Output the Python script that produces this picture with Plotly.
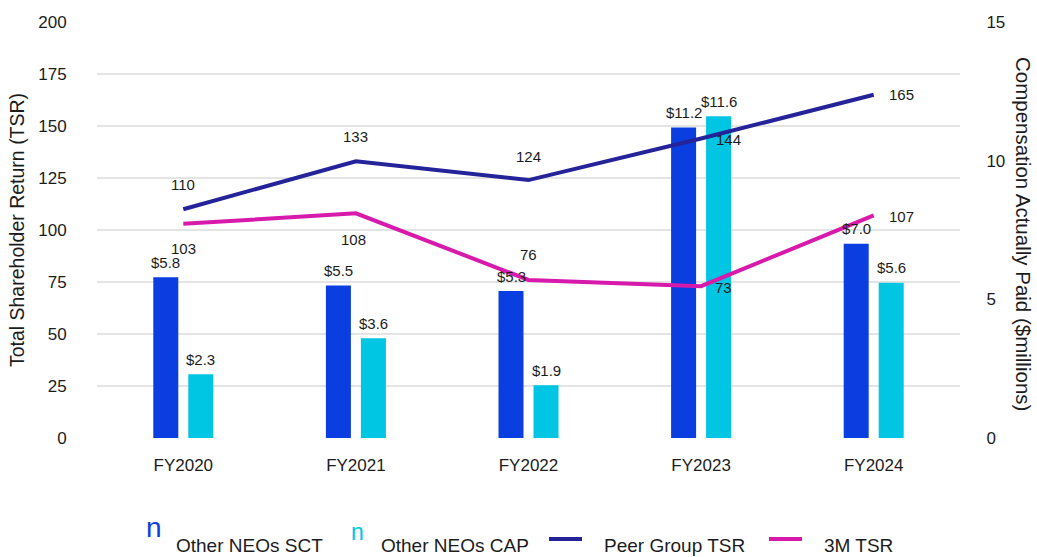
import plotly.graph_objects as go

# Fiscal years and values
years = ["FY2020", "FY2021", "FY2022", "FY2023", "FY2024"]
neo_sct = [5.8, 5.5, 5.3, 11.2, 7.0]      # $ millions
neo_cap = [2.3, 3.6, 1.9, 11.6, 5.6]      # $ millions
peer_tsr = [110, 133, 124, 144, 165]
mmm_tsr = [103, 108, 76, 73, 107]

tsr_ticks = [0, 25, 50, 75, 100, 125, 150, 175, 200]
comp_ticks = [0, 5, 10, 15]

C_SCT = "#0A3EE0"
C_CAP = "#00C5E3"
C_PEER = "#25239A"
C_MMM = "#D71AAC"
TXT = "#1c1c1c"
FONT = "Liberation Sans, Arial, sans-serif"

W, H = 1037, 557
ML, MR, MT, MB = 97, 77, 22, 119
plot_w = W - ML - MR
plot_h = H - MT - MB
cat_px = plot_w / len(years)

bar_w = 25 / cat_px

fig = go.Figure()

# Compensation bars on the right-hand axis
fig.add_trace(go.Bar(x=years, y=neo_sct, yaxis="y", marker_color=C_SCT,
                     width=bar_w, offset=-30 / cat_px, name="Other NEOs SCT",
                     marker_line_width=0))
fig.add_trace(go.Bar(x=years, y=neo_cap, yaxis="y", marker_color=C_CAP,
                     width=bar_w, offset=5 / cat_px, name="Other NEOs CAP",
                     marker_line_width=0))

# TSR lines on the left-hand axis (drawn above the bars)
fig.add_trace(go.Scatter(x=years, y=peer_tsr, yaxis="y2", mode="lines",
                         line=dict(color=C_PEER, width=4), name="Peer Group TSR"))
fig.add_trace(go.Scatter(x=years, y=mmm_tsr, yaxis="y2", mode="lines",
                         line=dict(color=C_MMM, width=4), name="3M TSR"))

annotations = []
lab_font = dict(family=FONT, size=15, color=TXT)

# Bar value labels
for yr, v in zip(years, neo_sct):
    annotations.append(dict(x=yr, y=v, xref="x", yref="y", text=f"${v:.1f}",
                            showarrow=False, xshift=-17.5, yshift=15, font=lab_font))
for yr, v in zip(years, neo_cap):
    annotations.append(dict(x=yr, y=v, xref="x", yref="y", text=f"${v:.1f}",
                            showarrow=False, xshift=17.5, yshift=15, font=lab_font))

# Line value labels
peer_shift = [(0, 25), (0, 25), (0, 24), (27, -1), (28, 0)]
mmm_shift = [(0, -25), (-2, -26), (0, 25), (22, -1), (28, -1)]
for yr, v, (dx, dy) in zip(years, peer_tsr, peer_shift):
    annotations.append(dict(x=yr, y=v, xref="x", yref="y2", text=str(v),
                            showarrow=False, xshift=dx, yshift=dy, font=lab_font))
for yr, v, (dx, dy) in zip(years, mmm_tsr, mmm_shift):
    annotations.append(dict(x=yr, y=v, xref="x", yref="y2", text=str(v),
                            showarrow=False, xshift=dx, yshift=dy, font=lab_font))


def px(xp):
    return (xp - ML) / plot_w


def py(yp):
    return (H - MB - yp) / plot_h


tick_font = dict(family=FONT, size=17, color=TXT)
title_font = dict(family=FONT, size=19.5, color=TXT)

# Right-hand axis title, reading top to bottom
annotations.append(dict(x=px(1024), y=py(234), xref="paper", yref="paper",
                        text="Compensation Actually Paid ($millions)", textangle=90,
                        showarrow=False, xanchor="center", yanchor="middle",
                        font=dict(family=FONT, size=20.5, color=TXT)))

# Legend built from text and line samples below the plot
leg_font = dict(family=FONT, size=19, color=TXT)
annotations += [
    dict(x=px(154), y=py(527), xref="paper", yref="paper", text="n", showarrow=False,
         xanchor="center", yanchor="middle", font=dict(family=FONT, size=28, color=C_SCT)),
    dict(x=px(174), y=py(545), xref="paper", yref="paper", text="Other NEOs SCT",
         showarrow=False, xanchor="left", yanchor="middle", font=leg_font),
    dict(x=px(357), y=py(532), xref="paper", yref="paper", text="n", showarrow=False,
         xanchor="center", yanchor="middle", font=dict(family=FONT, size=23, color=C_CAP)),
    dict(x=px(379), y=py(545), xref="paper", yref="paper", text="Other NEOs CAP",
         showarrow=False, xanchor="left", yanchor="middle", font=leg_font),
    dict(x=px(602), y=py(545), xref="paper", yref="paper", text="Peer Group TSR",
         showarrow=False, xanchor="left", yanchor="middle", font=leg_font),
    dict(x=px(822), y=py(545), xref="paper", yref="paper", text="3M TSR",
         showarrow=False, xanchor="left", yanchor="middle", font=leg_font),
]
shapes = [
    dict(type="line", xref="paper", yref="paper", x0=px(549), x1=px(582),
         y0=py(539), y1=py(539), line=dict(color=C_PEER, width=4)),
    dict(type="line", xref="paper", yref="paper", x0=px(769), x1=px(802),
         y0=py(539), y1=py(539), line=dict(color=C_MMM, width=4)),
]

fig.update_layout(
    width=W, height=H,
    margin=dict(l=ML, r=MR, t=MT, b=MB, autoexpand=False),
    paper_bgcolor="white", plot_bgcolor="white",
    showlegend=False, barmode="overlay",
    font=dict(family=FONT, color=TXT),
    xaxis=dict(type="category", showgrid=False, showline=False, zeroline=False,
               tickfont=tick_font, ticks="outside", ticklen=12, tickcolor="rgba(0,0,0,0)"),
    yaxis=dict(side="right", range=[0, 15], tickvals=comp_ticks, showgrid=False,
               zeroline=False, showline=False, tickfont=tick_font,
               ticks="outside", ticklen=22, tickcolor="rgba(0,0,0,0)"),
    yaxis2=dict(side="left", overlaying="y", range=[0, 200], tickvals=tsr_ticks,
                showgrid=True, gridcolor="#e4e4e4", gridwidth=1.5, zeroline=False,
                showline=False, tickfont=tick_font,
                ticks="outside", ticklen=26, tickcolor="rgba(0,0,0,0)",
                title=dict(text="Total Shareholder Return (TSR)", font=title_font,
                           standoff=8)),
    annotations=annotations,
    shapes=shapes,
)

fig.write_html("out.html")
